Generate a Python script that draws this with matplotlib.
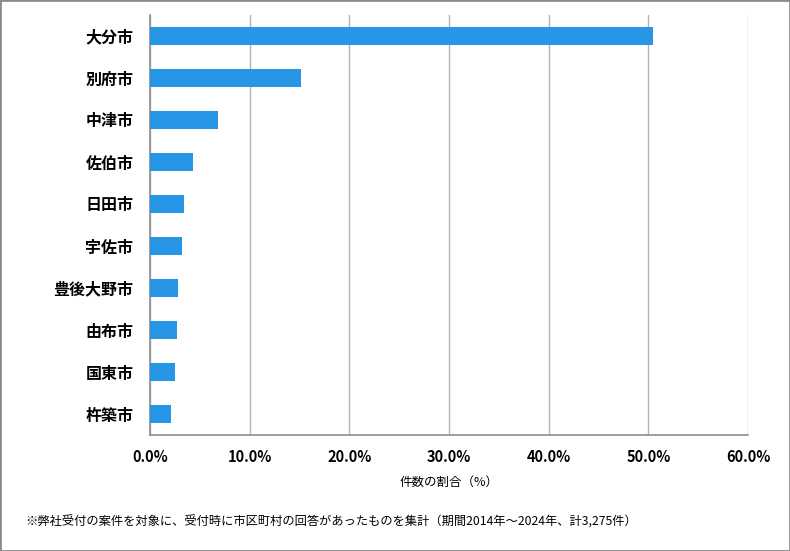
import matplotlib
matplotlib.use("Agg")
import matplotlib.pyplot as plt
from matplotlib.patches import Rectangle
from matplotlib.ticker import FuncFormatter

plt.rcParams['font.family'] = ['Noto Sans CJK JP', 'DejaVu Sans']

# data (share of cases, %)
cities = ['大分市', '別府市', '中津市', '佐伯市', '日田市', '宇佐市', '豊後大野市', '由布市', '国東市', '杵築市']
share = [50.5, 15.1, 6.8, 4.3, 3.4, 3.2, 2.8, 2.7, 2.5, 2.1]
xticks = [0, 10, 20, 30, 40, 50, 60]

fig = plt.figure(figsize=(7.9, 5.51), dpi=100)
ax = fig.add_axes([0.1899, 0.2105, 0.7569, 0.7623])

ypos = list(range(len(cities)))
ax.barh(ypos, share, height=0.43, color='#2896e6', zorder=3)
ax.set_yticks(ypos)
ax.set_yticklabels(cities, fontsize=11.5, fontweight='bold')
ax.set_ylim(len(cities) - 0.5, -0.5)

ax.set_xlim(0, 60)
ax.set_xticks(xticks)
ax.xaxis.set_major_formatter(FuncFormatter(lambda v, p: f'{v:.1f}%'))
for lab in ax.get_xticklabels():
    lab.set_fontweight('bold')
    lab.set_fontsize(10.5)
ax.grid(axis='x', color='#b3b3b3', linewidth=1, zorder=0)
ax.tick_params(axis='y', length=0, pad=12)
ax.tick_params(axis='x', length=0, pad=10)

for s in ['top', 'right']:
    ax.spines[s].set_visible(False)
for s in ['left', 'bottom']:
    ax.spines[s].set_color('#8c8c8c')
    ax.spines[s].set_linewidth(1.2)

ax.set_xlabel('件数の割合（%）', fontsize=9, labelpad=8)

fig.text(25 / 790, 1 - 522 / 551, '※弊社受付の案件を対象に、受付時に市区町村の回答があったものを集計（期間2014年～2024年、計3,275件）',
         fontsize=8.8, va='center', ha='left')

fig.patches.append(Rectangle((0, 0), 1, 1, transform=fig.transFigure, fill=False,
                             edgecolor='#8c8c8c', linewidth=2))

fig.savefig('out.png', dpi=100)
